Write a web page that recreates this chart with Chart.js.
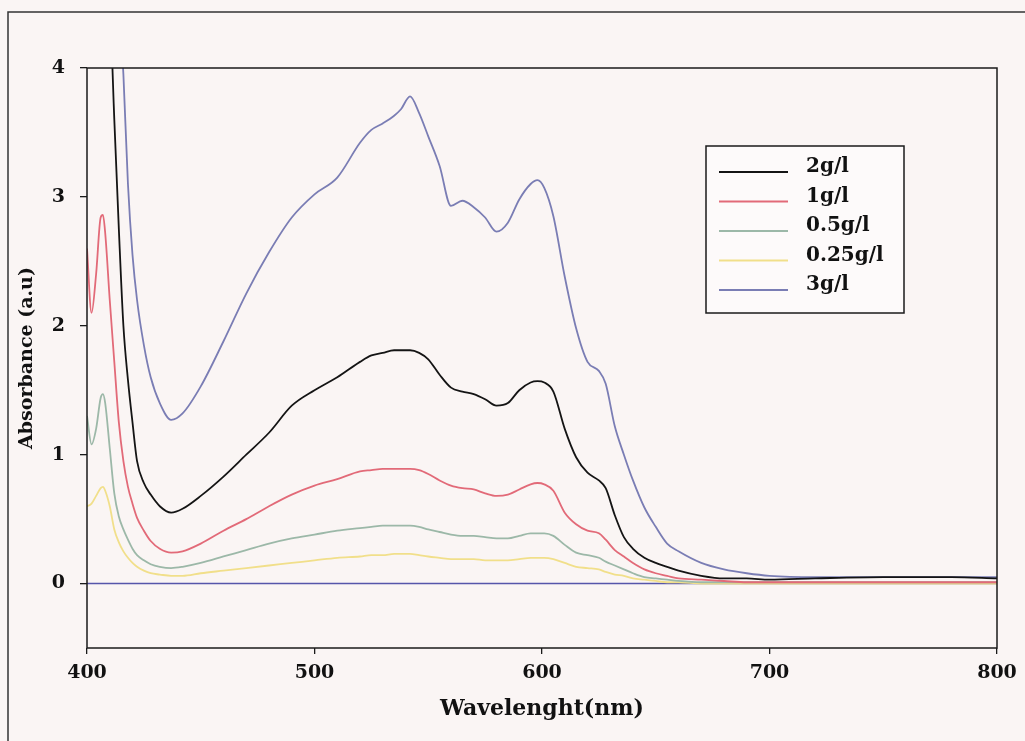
<!DOCTYPE html>
<html>
<head>
<meta charset="utf-8">
<title>Absorbance spectra</title>
<script src="https://cdn.jsdelivr.net/npm/chart.js@4.4.1/dist/chart.umd.min.js"></script>
<style>
  html, body { margin: 0; padding: 0; background: #faf5f4; }
  #wrap { width: 1025px; height: 741px; position: relative; }
</style>
</head>
<body>
<div id="wrap"><canvas id="myChart"></canvas></div>
<script>
// wavelengths (nm) shared by all spectra
var wavelength = [400, 402, 404, 406, 407, 408, 410, 412, 414, 416, 418, 420, 422, 425, 428, 432,
    437, 442, 450, 460, 470, 480, 490, 500, 510, 520, 525, 530, 535, 538, 542, 546, 550, 555,
    560, 565, 570, 575, 580, 585, 590, 595, 598, 601, 605, 610, 615, 620, 625, 628, 632, 636,
    640, 645, 650, 655, 660, 670, 680, 690, 700, 720, 750, 780, 800];

var abs2 = [6.0, 6.0, 6.0, 6.0, 6.0, 6.0, 4.6, 3.6, 2.75, 2.0, 1.58, 1.25, 0.95, 0.78, 0.69, 0.6,
    0.55, 0.58, 0.68, 0.83, 1.0, 1.17, 1.38, 1.5, 1.6, 1.72, 1.77, 1.79, 1.81, 1.81, 1.81, 1.79, 1.74, 1.62,
    1.52, 1.49, 1.47, 1.43, 1.38, 1.4, 1.5, 1.56, 1.57, 1.56, 1.49, 1.2, 0.98, 0.86, 0.8, 0.74, 0.53, 0.36,
    0.27, 0.2, 0.16, 0.13, 0.1, 0.06, 0.04, 0.04, 0.03, 0.04, 0.05, 0.05, 0.04];
var abs1 = [2.6, 2.1, 2.4, 2.84, 2.86, 2.72, 2.2, 1.72, 1.25, 0.95, 0.75, 0.62, 0.51, 0.41, 0.33, 0.27,
    0.24, 0.25, 0.31, 0.41, 0.5, 0.6, 0.69, 0.76, 0.81, 0.87, 0.88, 0.89, 0.89, 0.89, 0.89, 0.88, 0.85, 0.8,
    0.76, 0.74, 0.73, 0.7, 0.68, 0.69, 0.73, 0.77, 0.78, 0.77, 0.72, 0.55, 0.46, 0.41, 0.39, 0.34, 0.26, 0.21,
    0.16, 0.11, 0.08, 0.06, 0.04, 0.03, 0.02, 0.01, 0.01, 0.01, 0.01, 0.01, 0.01];
var abs05 = [1.3, 1.08, 1.2, 1.44, 1.47, 1.4, 1.05, 0.7, 0.52, 0.42, 0.34, 0.27, 0.22, 0.18, 0.15, 0.13,
    0.12, 0.13, 0.16, 0.21, 0.26, 0.31, 0.35, 0.38, 0.41, 0.43, 0.44, 0.45, 0.45, 0.45, 0.45, 0.44, 0.42, 0.4,
    0.38, 0.37, 0.37, 0.36, 0.35, 0.35, 0.37, 0.39, 0.39, 0.39, 0.37, 0.3, 0.24, 0.22, 0.2, 0.17, 0.14, 0.11,
    0.08, 0.05, 0.04, 0.03, 0.02, 0.01, 0.01, 0.01, 0.01, 0.01, 0.01, 0.01, 0.01];
var abs025 = [0.6, 0.62, 0.68, 0.74, 0.75, 0.72, 0.6, 0.42, 0.32, 0.25, 0.2, 0.16, 0.13, 0.1, 0.08, 0.07,
    0.06, 0.06, 0.08, 0.1, 0.12, 0.14, 0.16, 0.18, 0.2, 0.21, 0.22, 0.22, 0.23, 0.23, 0.23, 0.22, 0.21, 0.2,
    0.19, 0.19, 0.19, 0.18, 0.18, 0.18, 0.19, 0.2, 0.2, 0.2, 0.19, 0.16, 0.13, 0.12, 0.11, 0.09, 0.07, 0.06,
    0.04, 0.03, 0.02, 0.01, 0.01, 0, 0, 0, 0, 0, 0, 0, 0];
var abs3 = [6.0, 6.0, 6.0, 6.0, 6.0, 6.0, 5.6, 5.1, 4.6, 3.95, 3.1, 2.55, 2.2, 1.85, 1.6, 1.4,
    1.27, 1.32, 1.53, 1.88, 2.25, 2.57, 2.84, 3.02, 3.15, 3.42, 3.52, 3.57, 3.63, 3.68, 3.78, 3.65, 3.47, 3.24,
    2.93, 2.97, 2.92, 2.84, 2.73, 2.8, 2.98, 3.1, 3.13, 3.07, 2.85, 2.38, 1.98, 1.72, 1.65, 1.55, 1.22, 1.0,
    0.8, 0.59, 0.44, 0.31, 0.25, 0.16, 0.11, 0.08, 0.06, 0.05, 0.05, 0.05, 0.05];

// reference (solvent) line
var baseX = [400, 800];
var baseY = [0, 0];

var seriesLabels = ['2g/l', '1g/l', '0.5g/l', '0.25g/l', '3g/l'];
var seriesValues = [abs2, abs1, abs05, abs025, abs3];
var seriesColors = ['#141414', '#e26a78', '#9cb8a8', '#f1df8a', '#7a7db4'];

var xTicks = [400, 500, 600, 700, 800];
var yTicks = [0, 1, 2, 3, 4];

var serif = '"DejaVu Serif", "Liberation Serif", serif';

function points(xs, ys) {
    return xs.map(function (x, i) { return { x: x, y: ys[i] }; });
}

var datasets = seriesLabels.map(function (label, i) {
    return {
        label: label,
        data: points(wavelength, seriesValues[i]),
        borderColor: seriesColors[i],
        borderWidth: 1.8,
        pointRadius: 0,
        cubicInterpolationMode: 'monotone'
    };
});
datasets.push({
    label: 'baseline',
    data: points(baseX, baseY),
    borderColor: '#5656aa',
    borderWidth: 1.6,
    pointRadius: 0
});

// page background, outer frame, plot box and the boxed legend
var decorations = {
    id: 'decorations',
    beforeDraw: function (chart) {
        var c = chart.ctx;
        c.save();
        c.fillStyle = '#faf5f4';
        c.fillRect(0, 0, chart.width, chart.height);
        c.strokeStyle = '#333';
        c.lineWidth = 1.5;
        c.beginPath();
        c.moveTo(8, chart.height);
        c.lineTo(8, 12);
        c.lineTo(chart.width, 12);
        c.stroke();
        c.restore();
    },
    afterDraw: function (chart) {
        var c = chart.ctx, a = chart.chartArea;
        c.save();
        c.strokeStyle = '#1a1a1a';
        c.lineWidth = 1.5;
        c.strokeRect(a.left, a.top, a.right - a.left, a.bottom - a.top);

        // legend
        c.fillStyle = '#fdfafa';
        c.fillRect(706, 146, 198, 167);
        c.strokeRect(706, 146, 198, 167);
        c.font = 'bold 20px ' + serif;
        c.textBaseline = 'middle';
        seriesLabels.forEach(function (label, i) {
            var y = 172 + i * 29.5;
            c.strokeStyle = seriesColors[i];
            c.lineWidth = 1.8;
            c.beginPath();
            c.moveTo(719, y);
            c.lineTo(788, y);
            c.stroke();
            c.fillStyle = '#111';
            c.fillText(label, 806, y - 5);
        });
        c.restore();
    }
};

var ctx = document.getElementById('myChart').getContext('2d');
var myChart = new Chart(ctx, {
    type: 'line',
    data: { datasets: datasets },
    plugins: [decorations],
    options: {
        responsive: true,
        maintainAspectRatio: false,
        animation: false,
        layout: { padding: { top: 68, right: 28, left: 0, bottom: 0 } },
        plugins: {
            legend: { display: false },
            tooltip: { enabled: false }
        },
        scales: {
            x: {
                type: 'linear',
                min: 400,
                max: 800,
                afterBuildTicks: function (s) { s.ticks = xTicks.map(function (v) { return { value: v }; }); },
                afterFit: function (s) { s.height = 93; },
                ticks: { color: '#111', padding: 8, font: { family: serif, size: 19, weight: 'bold' } },
                grid: { drawOnChartArea: false, drawTicks: true, tickLength: 6, color: '#1a1a1a', lineWidth: 1.3 },
                border: { display: false },
                title: {
                    display: true,
                    text: 'Wavelenght(nm)',
                    color: '#111',
                    font: { family: serif, size: 22, weight: 'bold' },
                    padding: { top: 0, bottom: 19 }
                }
            },
            y: {
                min: -0.5,
                max: 4,
                afterBuildTicks: function (s) { s.ticks = yTicks.map(function (v) { return { value: v }; }); },
                afterFit: function (s) { s.width = 87; },
                ticks: { color: '#111', padding: 15, font: { family: serif, size: 19, weight: 'bold' } },
                grid: { drawOnChartArea: false, drawTicks: true, tickLength: 7, color: '#1a1a1a', lineWidth: 1.3 },
                border: { display: false },
                title: {
                    display: true,
                    text: 'Absorbance (a.u)',
                    color: '#111',
                    font: { family: serif, size: 19, weight: 'bold' },
                    padding: { top: 16, bottom: 0 }
                }
            }
        }
    }
});
</script>
</body>
</html>
